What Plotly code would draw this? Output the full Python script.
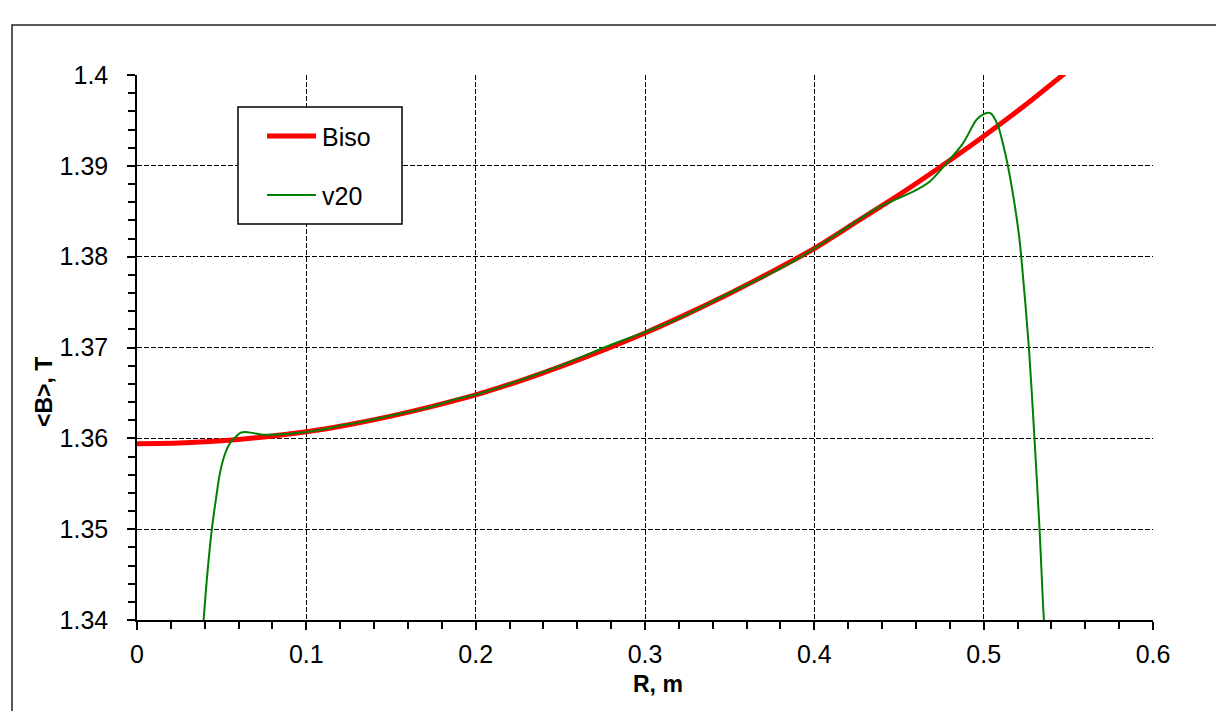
import plotly.graph_objects as go

# Radius grid and iso-field curve (Biso)
r_biso = [0.0, 0.025, 0.05, 0.075, 0.1, 0.125, 0.15, 0.175, 0.2, 0.225, 0.25,
          0.275, 0.3, 0.325, 0.35, 0.375, 0.4, 0.425, 0.45, 0.475, 0.5, 0.525, 0.55]
b_biso = [1.35940, 1.35948, 1.35973, 1.36015, 1.36072, 1.36150, 1.36245, 1.36355,
          1.36478, 1.36625, 1.36790, 1.36968, 1.37160, 1.37370, 1.37595, 1.37835,
          1.38090, 1.38385, 1.38680, 1.38995, 1.39325, 1.39675, 1.40050]

# Averaged field for version v20
r_v20 = [0.0390, 0.0415, 0.0442, 0.0470, 0.0490, 0.0520, 0.0550, 0.0580, 0.0610,
         0.0640, 0.0680, 0.0740, 0.0800, 0.0900, 0.1000, 0.1100, 0.1200, 0.1300,
         0.1500, 0.1700, 0.1900, 0.2000, 0.2200, 0.2500, 0.2800, 0.3000, 0.3200,
         0.3500, 0.3800, 0.4000, 0.4200, 0.4386, 0.4583, 0.4680, 0.4780, 0.4878,
         0.4957, 0.5000, 0.5040, 0.5083, 0.5113, 0.5142, 0.5179, 0.5207, 0.5222,
         0.5267, 0.5300, 0.5330, 0.5356, 0.5362]
b_v20 = [1.3392, 1.3450, 1.3500, 1.3538, 1.3562, 1.3583, 1.3595, 1.3601, 1.3606,
         1.3607, 1.3606, 1.3604, 1.3604, 1.3605, 1.3607, 1.3610, 1.3614, 1.3617,
         1.3625, 1.3633, 1.3644, 1.3648, 1.3660, 1.3680, 1.3703, 1.3717, 1.3732,
         1.3760, 1.3787, 1.3809, 1.3833, 1.3855, 1.38715, 1.38825, 1.39028, 1.39248,
         1.39505, 1.39570, 1.39580, 1.39450, 1.39248, 1.3901, 1.3862, 1.3826, 1.3800,
         1.3700, 1.3600, 1.3500, 1.3400, 1.3390]

x_tick_vals = [0.0, 0.1, 0.2, 0.3, 0.4, 0.5, 0.6]
x_tick_text = ["0", "0.1", "0.2", "0.3", "0.4", "0.5", "0.6"]
y_tick_vals = [1.34, 1.35, 1.36, 1.37, 1.38, 1.39, 1.40]
y_tick_text = ["1.34", "1.35", "1.36", "1.37", "1.38", "1.39", "1.4"]

series_names = ["Biso", "v20"]
series_colors = ["#ff0000", "#008000"]

W, H = 1216, 711
L, R, T, B = 137, 63, 75, 91
PW, PH = W - L - R, H - T - B
FONT = "Liberation Sans, Arial, sans-serif"


def px_x(p):
    return (p - L) / PW


def px_y(p):
    return (H - B - p) / PH


fig = go.Figure()
fig.add_trace(go.Scatter(x=r_biso, y=b_biso, mode="lines", name=series_names[0],
                         line=dict(color=series_colors[0], width=5, shape="spline", smoothing=0.6),
                         showlegend=False))
fig.add_trace(go.Scatter(x=r_v20, y=b_v20, mode="lines", name=series_names[1],
                         line=dict(color=series_colors[1], width=2, shape="spline", smoothing=0.8),
                         showlegend=False))

axis_common = dict(
    showline=True, linecolor="black", linewidth=1.5, mirror=False,
    ticks="outside", ticklen=8, tickwidth=1.5, tickcolor="black",
    showgrid=True, gridcolor="#000000", gridwidth=1.3, griddash="5px,2px",
    zeroline=False, tickfont=dict(family=FONT, size=25, color="black"),
)

fig.update_xaxes(range=[0, 0.6], tickvals=x_tick_vals, ticktext=x_tick_text,
                 ticklabelstandoff=3,
                 minor=dict(tick0=0, dtick=0.02, ticks="outside", ticklen=7,
                            tickwidth=1.5, tickcolor="black", showgrid=False),
                 **axis_common)
fig.update_yaxes(range=[1.34, 1.40], tickvals=y_tick_vals, ticktext=y_tick_text,
                 ticklabelstandoff=14,
                 minor=dict(tick0=1.34, dtick=0.002, ticks="outside", ticklen=7,
                            tickwidth=1.5, tickcolor="black", showgrid=False),
                 **axis_common)

shapes = [
    # outer chart frame
    dict(type="rect", xref="paper", yref="paper", x0=px_x(12), x1=px_x(W + 40),
         y0=px_y(H + 40), y1=px_y(25), line=dict(color="#222222", width=1.5),
         fillcolor="rgba(0,0,0,0)", layer="below"),
    # legend box
    dict(type="rect", xref="paper", yref="paper", x0=px_x(238), x1=px_x(402),
         y0=px_y(224), y1=px_y(107), line=dict(color="black", width=1.5),
         fillcolor="white", layer="above"),
]
legend_rows = [136, 195]
legend_widths = [5, 2]
for name, color, row, lw in zip(series_names, series_colors, legend_rows, legend_widths):
    shapes.append(dict(type="line", xref="paper", yref="paper", x0=px_x(267), x1=px_x(316),
                       y0=px_y(row), y1=px_y(row), line=dict(color=color, width=lw),
                       layer="above"))

annotations = []
for name, row in zip(series_names, legend_rows):
    annotations.append(dict(text=name, xref="paper", yref="paper", x=px_x(320), y=px_y(row + 1),
                            xanchor="left", yanchor="middle", showarrow=False,
                            font=dict(family=FONT, size=25, color="black")))
annotations.append(dict(text="R, m", xref="paper", yref="paper", x=px_x(658), y=px_y(684),
                        xanchor="center", yanchor="middle", showarrow=False,
                        font=dict(family=FONT, size=23, color="black", weight="bold")))
annotations.append(dict(text="&lt;B&gt;, T", xref="paper", yref="paper", x=px_x(44), y=px_y(392),
                        xanchor="center", yanchor="middle", showarrow=False, textangle=-90,
                        font=dict(family=FONT, size=23, color="black", weight="bold")))

fig.update_layout(
    width=W, height=H,
    margin=dict(l=L, r=R, t=T, b=B, pad=0),
    paper_bgcolor="white", plot_bgcolor="white",
    shapes=shapes, annotations=annotations,
    showlegend=False,
)

fig.write_html("out.html")
